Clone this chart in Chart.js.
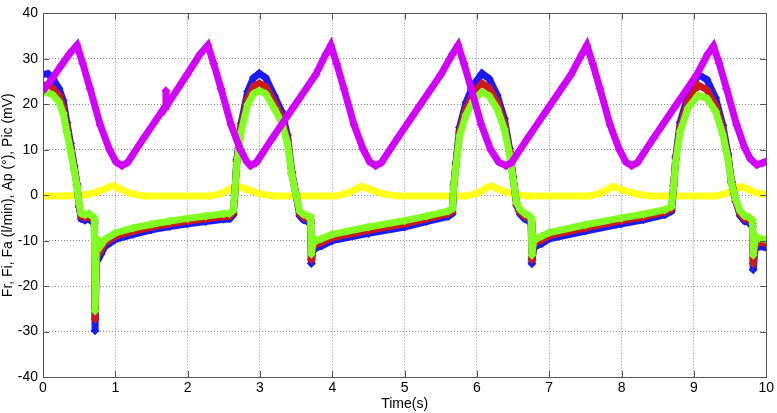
<!DOCTYPE html>
<html>
<head>
<meta charset="utf-8">
<script src="https://cdn.jsdelivr.net/npm/chart.js@4/dist/chart.umd.min.js"></script>
<style>
  body { margin: 0; background: #fff; }
  #wrap { width: 777px; height: 413px; }
</style>
</head>
<body>
<div id="wrap"><canvas id="line-chart" width="777" height="413"></canvas></div>
<script>
// flow signals Fr / Fi / Fa share one time base
var flowTime = [
  0, 0.07, 0.14, 0.22, 0.28, 0.33, 0.38, 0.43, 0.47, 0.5,
  0.53, 0.58, 0.63, 0.68, 0.71, 0.72, 0.74, 0.77, 0.8, 0.85,
  1.0, 1.25, 1.5, 1.75, 2.0, 2.25, 2.5, 2.58, 2.63, 2.65,
  2.68, 2.74, 2.83, 2.91, 2.99, 3.08, 3.2, 3.3, 3.38, 3.44,
  3.5, 3.55, 3.6, 3.65, 3.7, 3.71, 3.74, 3.78, 3.85, 4.0,
  4.5, 5.0, 5.3, 5.6, 5.66, 5.68, 5.71, 5.76, 5.85, 5.95,
  6.07, 6.17, 6.28, 6.38, 6.45, 6.5, 6.55, 6.6, 6.66, 6.72,
  6.75, 6.76, 6.79, 6.83, 6.9, 7.0, 7.5, 8.0, 8.3, 8.6,
  8.69, 8.72, 8.75, 8.81, 8.92, 9.06, 9.18, 9.3, 9.4, 9.47,
  9.52, 9.58, 9.64, 9.7, 9.76, 9.81, 9.82, 9.85, 9.9, 10
];
var frBlue = [
  26.6, 26.7, 25.5, 23.5, 20.8, 16, 11.4, 6.5, 2.4, -2.6,
  -5.2, -5.5, -5.2, -5.8, -6.3, -29.8, -11, -11.8, -13, -11.4,
  -9.7, -8.6, -7.6, -6.9, -6.3, -5.8, -5.3, -5.2, -4.3, 0,
  7.8, 15.8, 22.8, 25.8, 26.8, 25.8, 21.8, 18.4, 13.2, 5.1,
  0, -4.5, -5.4, -5.7, -6.1, -15, -11.1, -11.6, -11.2, -10,
  -8.4, -7, -5.8, -4.7, -4, 2.1, 7.1, 14.9, 20.4, 24.2,
  26.8, 25.6, 22, 16.8, 10.3, 4, -2.3, -4.2, -5.2, -5.7,
  -6.2, -15.1, -10.6, -11.1, -10.6, -9.6, -7.9, -6.3, -5.4, -4.3,
  -3.5, 2.1, 8.5, 16, 22, 26.6, 25.4, 21.4, 15.4, 9.1,
  3, -1.4, -4.5, -5.7, -6, -6.9, -16.4, -11, -11.3, -11.5
];
var fiRed = [
  24.2, 24.3, 23.5, 22, 19.3, 14.8, 10.5, 6, 2.2, -2.3,
  -4.6, -4.9, -4.6, -5.2, -5.7, -27.3, -10.2, -10.8, -12, -10.6,
  -9, -7.9, -7, -6.3, -5.7, -5.2, -4.7, -4.6, -3.8, 0,
  7.4, 14.9, 21.3, 23.9, 24.6, 23.9, 20.4, 17.2, 12.3, 4.8,
  0, -4, -4.8, -5.1, -5.5, -14.2, -10.3, -10.8, -10.4, -9.3,
  -7.7, -6.3, -5.2, -4.1, -3.5, 2, 6.7, 14, 19, 22.4,
  24.6, 23.6, 20.5, 15.6, 9.6, 3.7, -2, -3.7, -4.6, -5.1,
  -5.6, -14.2, -9.8, -10.3, -9.8, -8.9, -7.2, -5.6, -4.8, -3.7,
  -3, 2, 8, 15, 20.6, 24.2, 23.2, 19.8, 14.3, 8.5,
  2.8, -1.2, -4, -5.1, -5.4, -6.2, -15.1, -10, -10.4, -10.6
];
var faGreen = [
  22.5, 22.6, 22, 20.5, 18, 13.8, 9.8, 5.5, 2, -2,
  -4, -4.3, -4, -4.6, -5, -25.5, -9.5, -10, -11, -9.8,
  -8.3, -7.2, -6.4, -5.7, -5.1, -4.6, -4.1, -4, -3.3, 0,
  7, 14, 19.9, 22.3, 23, 22.3, 19, 16, 11.5, 4.5,
  0, -3.5, -4.2, -4.5, -4.8, -13, -9.5, -10, -9.6, -8.6,
  -7, -5.6, -4.6, -3.5, -3, 1.9, 6.3, 13, 17.7, 20.8,
  22.7, 21.8, 19, 14.5, 9, 3.5, -1.7, -3.2, -4, -4.5,
  -5, -13.2, -9, -9.5, -9, -8.2, -6.5, -5, -4.2, -3.2,
  -2.5, 1.9, 7.5, 14, 19.2, 22, 21.3, 18.4, 13.3, 8,
  2.6, -1, -3.5, -4.5, -4.8, -5.5, -13.2, -9, -9.5, -9.7
];

// Ap (magenta)
var apTime = [
  0, 0.12, 0.25, 0.37, 0.47, 0.55, 0.65, 0.79, 0.92, 1.01, 1.09, 1.17,
  1.39, 1.69, 1.7, 1.71, 1.99, 2.17, 2.28, 2.36, 2.46, 2.6, 2.73, 2.82, 2.87, 2.95,
  3.17, 3.47, 3.77, 3.91, 3.98, 4.06, 4.16, 4.3, 4.43, 4.52, 4.6, 4.68,
  4.9, 5.2, 5.5, 5.66, 5.74, 5.82, 5.92, 6.06, 6.19, 6.3, 6.4, 6.48,
  6.7, 7.0, 7.3, 7.45, 7.52, 7.6, 7.7, 7.84, 7.97, 8.06, 8.14, 8.22,
  8.44, 8.74, 9.04, 9.19, 9.27, 9.35, 9.45, 9.59, 9.7, 9.78, 9.87, 9.95, 10
];
var apVal = [
  23, 25.5, 28.5, 31.2, 33, 29, 23.5, 15.5, 10, 7.3, 6.5, 7.2,
  12.5, 19.5, 23, 19.7, 26.5, 31, 33, 29, 23.5, 15.5, 10, 7.3, 6.5, 7.2,
  12.5, 19.5, 26.5, 31, 33, 29, 23.5, 15.5, 10, 7.3, 6.5, 7.2,
  12.5, 19.5, 26.5, 31, 33, 29, 23.5, 15.5, 10, 7.3, 6.5, 7.2,
  12.5, 19.5, 26.5, 31, 33, 29, 23.5, 15.5, 10, 7.3, 6.5, 7.2,
  12.5, 19.5, 26.5, 31, 32.8, 29, 23.5, 15.5, 10.5, 8, 6.7, 7.1, 7.4
];

// Pic (yellow)
var picTime = [
  0, 0.3, 0.6, 0.75, 0.9, 0.97, 1.05, 1.2, 1.4,
  2.3, 2.45, 2.6, 2.67, 2.8, 3.0, 3.2,
  4.05, 4.2, 4.35, 4.41, 4.5, 4.7, 4.9,
  5.85, 6.0, 6.12, 6.19, 6.3, 6.5, 6.7,
  7.55, 7.7, 7.83, 7.89, 8.0, 8.2, 8.4,
  9.3, 9.45, 9.6, 9.66, 9.75, 9.9, 10
];
var picVal = [
  -0.2, -0.2, 0.1, 0.7, 1.7, 2.1, 1.5, 0.4, -0.2,
  -0.2, 0.3, 1.5, 2.1, 1.4, 0.3, -0.2,
  -0.2, 0.4, 1.5, 1.9, 1.4, 0.3, -0.2,
  -0.2, 0.4, 1.5, 2, 1.3, 0.2, -0.2,
  -0.2, 0.4, 1.5, 1.9, 1.2, 0.3, -0.2,
  -0.2, 0.4, 1.5, 1.9, 1.3, 0.3, 0.2
];

var xTicks = [0, 1, 2, 3, 4, 5, 6, 7, 8, 9, 10];
var yTicks = [-40, -30, -20, -10, 0, 10, 20, 30, 40];

function pts(tArr, vArr) {
  var out = [];
  for (var i = 0; i < tArr.length; i++) {
    out.push({ x: tArr[i], y: vArr[i] });
  }
  return out;
}

function series(label, color, tArr, vArr, order) {
  return {
    label: label,
    data: pts(tArr, vArr),
    borderColor: color,
    backgroundColor: color,
    borderWidth: 7,
    pointStyle: 'rectRot',
    pointRadius: 4.5,
    pointBorderWidth: 0,
    tension: 0,
    fill: false,
    order: order
  };
}

// inward tick marks + box like the matlab axes
var frameBox = {
  id: 'frameBox',
  afterDraw: function (chart) {
    var ctx = chart.ctx;
    var a = chart.chartArea;
    var xs = chart.scales.x, ys = chart.scales.y;
    ctx.save();
    ctx.strokeStyle = '#555';
    ctx.lineWidth = 1;
    ctx.setLineDash([]);
    ctx.strokeRect(Math.round(a.left) + 0.5, Math.round(a.top) + 0.5,
      Math.round(a.right - a.left), Math.round(a.bottom - a.top));
    ctx.beginPath();
    for (var i = 0; i < xTicks.length; i++) {
      var px = Math.round(xs.getPixelForValue(xTicks[i])) + 0.5;
      ctx.moveTo(px, a.bottom); ctx.lineTo(px, a.bottom - 6);
      ctx.moveTo(px, a.top); ctx.lineTo(px, a.top + 6);
    }
    for (var j = 0; j < yTicks.length; j++) {
      var py = Math.round(ys.getPixelForValue(yTicks[j])) + 0.5;
      ctx.moveTo(a.left, py); ctx.lineTo(a.left + 6, py);
      ctx.moveTo(a.right, py); ctx.lineTo(a.right - 6, py);
    }
    ctx.stroke();
    ctx.restore();
  }
};

var font = { family: 'Liberation Sans, Arial, sans-serif', size: 14 };

new Chart(document.getElementById('line-chart'), {
  type: 'line',
  data: {
    datasets: [
      series('Ap', '#d400ff', apTime, apVal, 0),
      series('Fa', '#80ff20', flowTime, faGreen, 1),
      series('Fi', '#cc1a1a', flowTime, fiRed, 2),
      series('Fr', '#1a1aff', flowTime, frBlue, 3),
      series('Pic', '#ffff1a', picTime, picVal, 4)
    ]
  },
  options: {
    responsive: false,
    animation: false,
    layout: { padding: { top: 7, right: 9, left: 0, bottom: 0 } },
    plugins: { legend: { display: false }, tooltip: { enabled: false } },
    scales: {
      x: {
        type: 'linear',
        min: 0, max: 10,
        afterBuildTicks: function (s) { s.ticks = xTicks.map(function (v) { return { value: v }; }); },
        afterFit: function (s) { s.height = 36; },
        ticks: { color: '#000', font: font, padding: 3, maxRotation: 0 },
        grid: { color: '#8a8a8a', drawTicks: false },
        border: { display: false, dash: [1, 2] },
        title: { display: true, text: 'Time(s)', color: '#000', font: font, padding: { top: 0, bottom: 0 } }
      },
      y: {
        min: -40, max: 40,
        afterBuildTicks: function (s) { s.ticks = yTicks.map(function (v) { return { value: v }; }); },
        afterFit: function (s) { s.width = 43; },
        ticks: { color: '#000', font: font, padding: 5 },
        grid: { color: '#8a8a8a', drawTicks: false },
        border: { display: false, dash: [1, 2] },
        title: { display: true, text: 'Fr, Fi, Fa (l/min), Ap (°), Pic (mV)', color: '#000', font: font, padding: { top: 0, bottom: 0 } }
      }
    }
  },
  plugins: [frameBox]
});
</script>
</body>
</html>
